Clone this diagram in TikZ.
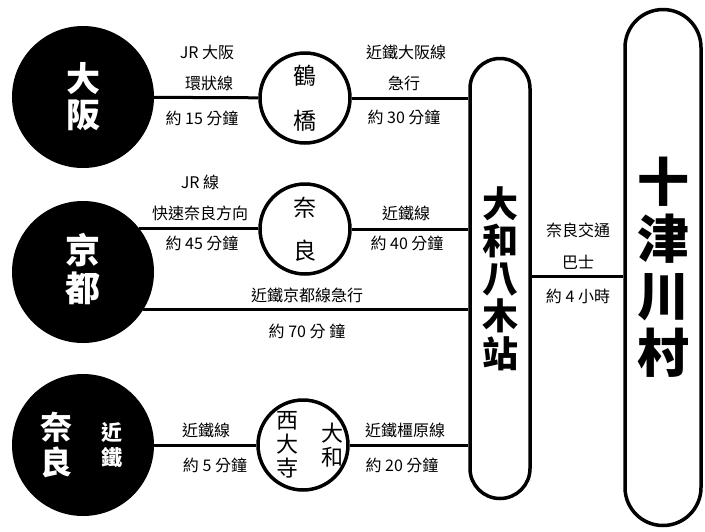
\documentclass[tikz,border=0pt]{standalone}
\usepackage{fontspec}
\setmainfont{Noto Sans CJK TC}
\begin{document}
\begin{tikzpicture}[x=1pt,y=-1pt,
  city/.style={circle,fill=black,inner sep=0pt,minimum size=142pt},
  citytext/.style={text=white,inner sep=0pt,align=center,font=\bfseries\fontsize{34}{36}\selectfont},
  stop/.style={circle,draw=black,line width=3.5pt,fill=white,inner sep=0pt,minimum size=90pt,align=center,font=\fontsize{23}{45}\selectfont},
  hub/.style={draw=black,line width=3.5pt,inner sep=0pt,align=center},
  rail/.style={line width=3pt},
  lbl/.style={inner sep=0pt,font=\fontsize{16}{16}\selectfont}]

\useasboundingbox (0,0) rectangle (705,531);

% stations
\node[city] (osaka) at (83,97) {};
\node[citytext] (osakat) at (83,97) {大\\阪};
\node[city] (kyoto) at (83,272) {};
\node[citytext,font=\bfseries\fontsize{35}{38}\selectfont] (kyotot) at (83,269) {京\\都};
\node[city] (nara) at (83,445) {};
\node[citytext,font=\bfseries\fontsize{32}{35}\selectfont] (narat) at (56,445) {奈\\良};
\node[citytext,font=\bfseries\fontsize{21}{25}\selectfont] (kintetsu) at (112,445) {近\\鐵};

\node[stop] (tsuru) at (305,98) {鶴\\橋};
\node[stop,font=\fontsize{23}{43}\selectfont] (naraeki) at (305,229) {奈\\良};
\node[stop] (saidaiji) at (303,445) {};
\node[inner sep=0pt,align=center,font=\fontsize{22}{24}\selectfont] (saidaijit) at (287,445) {西\\大\\寺};
\node[inner sep=0pt,align=center,font=\fontsize{22}{24}\selectfont] (yamatot) at (332,445) {大\\和};

\node[hub,rounded corners=30pt,minimum width=60pt,minimum height=440pt,font=\bfseries\fontsize{36}{37.5}\selectfont] (yagi) at (500,278.5) {大\\和\\八\\木\\站};
\node[hub,rounded corners=38pt,minimum width=76pt,minimum height=516pt,font=\bfseries\fontsize{52}{57}\selectfont] (totsu) at (663,267.5) {十\\津\\川\\村};

% lines
\draw[rail] (osaka) -- (tsuru);
\draw[rail] (tsuru) -- (tsuru -| yagi.west);
\draw[rail] (kyoto.38) -- (kyoto.38 -| naraeki.west);
\draw[rail] (naraeki) -- (naraeki -| yagi.west);
\draw[rail] (kyoto.-32) -- (kyoto.-32 -| yagi.west);
\draw[rail] (nara) -- (saidaiji);
\draw[rail] (saidaiji) -- (saidaiji -| yagi.west);
\coordinate (bus) at (578,276);
\draw[rail] (bus -| yagi.east) -- (bus -| totsu.west);

% labels
\node[lbl] (l1) at (207,52) {JR 大阪};
\node[lbl] (l2) at (209,83) {環狀線};
\node[lbl] (l3) at (202,118) {約 15 分鐘};
\node[lbl] (l4) at (406,52) {近鐵大阪線};
\node[lbl] (l5) at (404,83) {急行};
\node[lbl] (l6) at (404,117) {約 30 分鐘};

\node[lbl] (l7) at (200,182) {JR 線};
\node[lbl] (l8) at (200,213) {快速奈良方向};
\node[lbl] (l9) at (202,243) {約 45 分鐘};
\node[lbl] (l10) at (406,213) {近鐵線};
\node[lbl] (l11) at (407,243) {約 40 分鐘};

\node[lbl] (l12) at (307,295) {近鐵京都線急行};
\node[lbl] (l13) at (307,331) {約 70 分 鐘};

\node[lbl] (l14) at (206,430) {近鐵線};
\node[lbl] (l15) at (215,465) {約 5 分鐘};
\node[lbl] (l16) at (405,430) {近鐵橿原線};
\node[lbl] (l17) at (402,465) {約 20 分鐘};

\node[lbl] (l18) at (578,230) {奈良交通};
\node[lbl] (l19) at (578,262) {巴士};
\node[lbl] (l20) at (578,296) {約 4 小時};

\end{tikzpicture}
\end{document}
